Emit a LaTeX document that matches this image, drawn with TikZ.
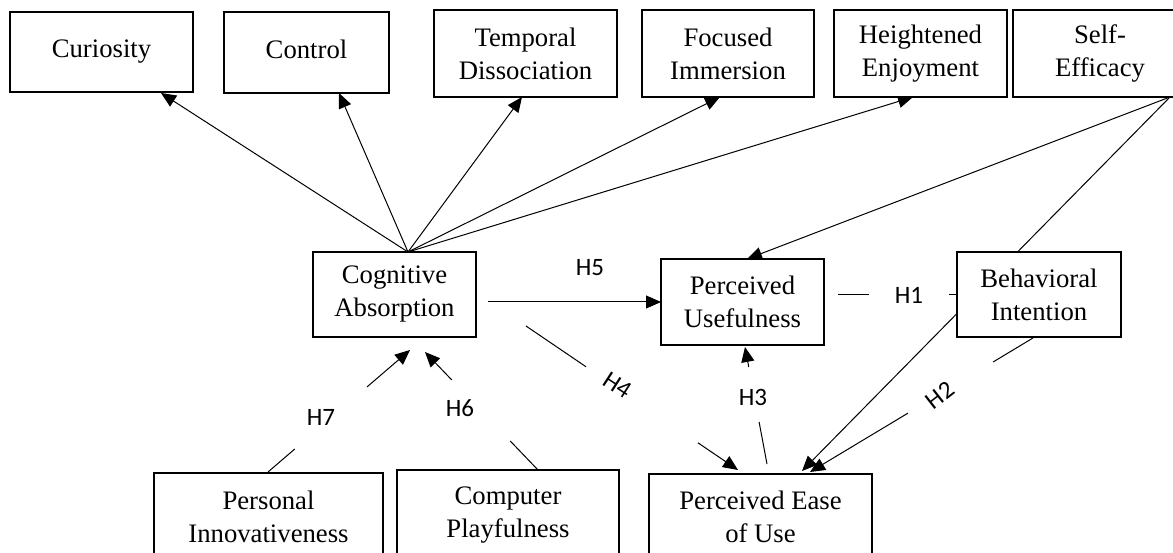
\documentclass[tikz,border=0pt]{standalone}
\usepackage{fontspec}
\setmainfont{Liberation Serif}
\newfontfamily\hfont{Carlito}
\usetikzlibrary{arrows.meta,backgrounds}
\begin{document}
\begin{tikzpicture}[x=1bp,y=-1bp,
  box/.style={draw,line width=2.3bp,fill=white,align=center,inner sep=0pt,
    font=\fontsize{26.7bp}{33bp}\selectfont},
  conn/.style={line width=1bp},
  arr/.style={conn,-{Triangle[length=15bp,width=13bp]}},
  hlab/.style={font=\hfont\fontsize{25bp}{30bp}\selectfont,inner sep=0pt}]
\useasboundingbox (0,0) rectangle (1173,553);
\clip (0,0) rectangle (1173,553);

% top row
\node[box,minimum width=183bp,minimum height=80bp] (cur) at (101.5,52) {Curiosity};
\node[box,minimum width=165bp,minimum height=81bp] (con) at (306.5,52.5) {\raisebox{7bp}{Control}};
\node[box,minimum width=183bp,minimum height=87bp] (tem) at (525.5,53.5) {Temporal\\Dissociation};
\node[box,minimum width=172bp,minimum height=87bp] (foc) at (728,53.5) {Focused\\Immersion};
\node[box,minimum width=173bp,minimum height=87bp] (hei) at (920.5,53.5) {Heightened\\Enjoyment};
\node[box,minimum width=174bp,minimum height=87bp] (se) at (1100,53.5) {Self-\\Efficacy};
% middle row
\node[box,minimum width=163bp,minimum height=85bp] (ca) at (394.5,294.5) {Cognitive\\Absorption};
\node[box,minimum width=163bp,minimum height=86bp] (pu) at (742.5,302) {Perceived\\Usefulness};
\node[box,minimum width=164bp,minimum height=85bp] (bi) at (1039,294.5) {Behavioral\\Intention};
% bottom row
\node[box,minimum width=229bp,minimum height=87bp] (pi) at (268.5,516.5) {Personal\\Innovativeness};
\node[box,minimum width=222bp,minimum height=90bp] (cp) at (508,515) {Computer\\Playfulness};
\node[box,minimum width=223bp,minimum height=86bp] (pe) at (760.5,517) {Perceived Ease\\of Use};

% labels
\node[hlab] (h5) at (590,268) {H5};
\node[hlab] (h1) at (909,295) {H1};
\node[hlab] (h3) at (753,397) {H3};
\node[hlab,rotate=-33] (h4) at (618,385) {H4};
\node[hlab,rotate=38] (h2) at (940,395) {H2};
\node[hlab] (h6) at (460,408) {H6};
\node[hlab] (h7) at (321,417) {H7};

% connector end points
\coordinate (apex) at (408,252);
\coordinate (tcur) at (161,93);
\coordinate (tcon) at (339,93);
\coordinate (ttem) at (522,97);
\coordinate (tfoc) at (720,97);
\coordinate (thei) at (913,97);
\coordinate (secorner) at (1170,97);
\coordinate (tpu1) at (747,259);
\coordinate (tpe1) at (802,471);
\coordinate (s5) at (488,302);
\coordinate (t5) at (661,302);
\coordinate (s1) at (838,295);
\coordinate (t1) at (957,295);
\coordinate (s3) at (767,464);
\coordinate (t3) at (745,347);
\coordinate (s4) at (526,326);
\coordinate (t4) at (738,470);
\coordinate (s2) at (1033,338);
\coordinate (t2) at (810,472);
\coordinate (s6) at (538,470);
\coordinate (t6) at (425,352);
\coordinate (s7) at (268,472);
\coordinate (t7) at (410,350);

\begin{pgfonlayer}{background}
\draw[arr] (apex) -- (tcur);
\draw[arr] (apex) -- (tcon);
\draw[arr] (apex) -- (ttem);
\draw[arr] (apex) -- (tfoc);
\draw[arr] (apex) -- (thei);
\draw[arr] (secorner) -- (tpu1);
\draw[arr] (secorner) -- (tpe1);
% H5
\draw[arr] (s5) -- (t5);
% H1
\path (s1) -- (t1) coordinate[pos=0.26] (g1a) coordinate[pos=0.933] (g1b);
\draw[conn] (s1) -- (g1a);
\draw[conn] (g1b) -- (t1);
% H3
\path (s3) -- (t3) coordinate[pos=0.359] (g3a) coordinate[pos=0.829] (g3b);
\draw[conn] (s3) -- (g3a);
\draw[arr] (g3b) -- (t3);
% H4
\path (s4) -- (t4) coordinate[pos=0.283] (g4a) coordinate[pos=0.811] (g4b);
\draw[conn] (s4) -- (g4a);
\draw[arr] (g4b) -- (t4);
% H2
\path (s2) -- (t2) coordinate[pos=0.179] (g2a) coordinate[pos=0.561] (g2b);
\draw[conn] (s2) -- (g2a);
\draw[arr] (g2b) -- (t2);
% H6
\path (s6) -- (t6) coordinate[pos=0.246] (g6a) coordinate[pos=0.763] (g6b);
\draw[conn] (s6) -- (g6a);
\draw[arr] (g6b) -- (t6);
% H7
\path (s7) -- (t7) coordinate[pos=0.189] (g7a) coordinate[pos=0.697] (g7b);
\draw[conn] (s7) -- (g7a);
\draw[arr] (g7b) -- (t7);
\end{pgfonlayer}
\end{tikzpicture}
\end{document}
